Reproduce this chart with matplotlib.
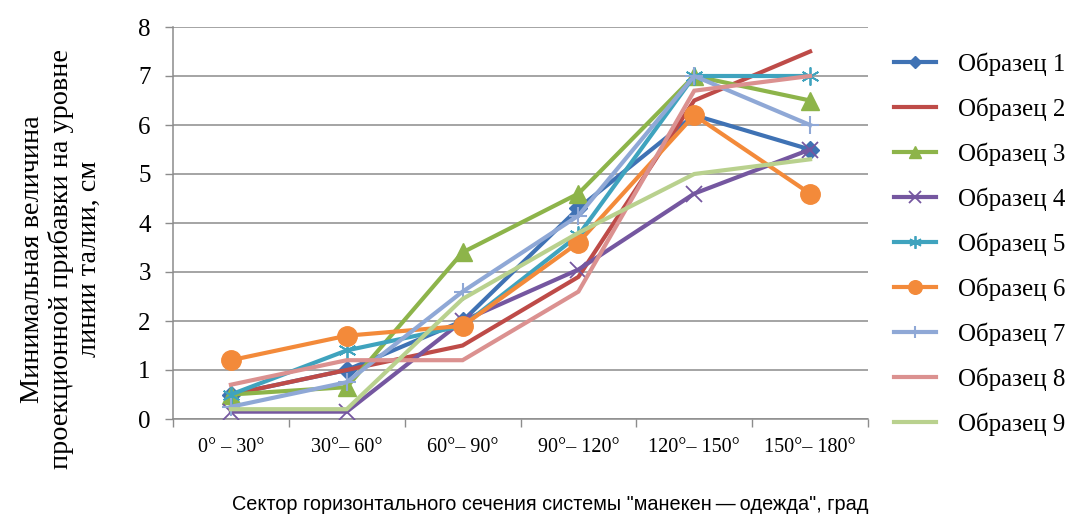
import matplotlib
matplotlib.use("Agg")
import matplotlib.pyplot as plt
import numpy as np

sectors = ["0° – 30°", "30°– 60°", "60°– 90°", "90°– 120°", "120°– 150°", "150°– 180°"]
labels = ["Образец %d" % i for i in range(1, 10)]

s1 = [0.5, 1.0, 2.0, 4.3, 6.2, 5.5]
s2 = [0.5, 1.0, 1.5, 2.9, 6.5, 7.5]
s3 = [0.5, 0.65, 3.4, 4.6, 7.0, 6.5]
s4 = [0.15, 0.15, 2.0, 3.05, 4.6, 5.5]
s5 = [0.5, 1.4, 1.9, 3.75, 7.0, 7.0]
s6 = [1.2, 1.7, 1.9, 3.6, 6.2, 4.6]
s7 = [0.25, 0.75, 2.6, 4.15, 7.0, 6.0]
s8 = [0.7, 1.2, 1.2, 2.6, 6.7, 7.0]
s9 = [0.2, 0.2, 2.45, 3.8, 5.0, 5.3]
series = [s1, s2, s3, s4, s5, s6, s7, s8, s9]

colors = ["#3F72B4", "#BE4B48", "#8DB44A", "#7557A0", "#3FA3BE",
          "#F38A3A", "#8FA8D6", "#DB9190", "#B9D18E"]
# marker, size, edge width
styles = [("D", 9, 1), (None, 0, 1), ("^", 13, 1), ("x", 12, 1.3),
          ((6, 2, 0), 13, 1.3), ("o", 14, 1), ("+", 13, 1.5), (None, 0, 1), (None, 0, 1)]

fig = plt.figure(figsize=(10.72, 5.16), dpi=100)
ax = fig.add_axes([173 / 1072, 1 - 419 / 516, 695 / 1072, 392 / 516])

x = np.arange(len(sectors))
for vals, lab, col, (mk, ms, mew) in zip(series, labels, colors, styles):
    ax.plot(x, vals, color=col, lw=3, marker=mk, ms=ms, mew=mew,
            mec=col, mfc=col, label=lab, solid_joinstyle="miter")

ax.set_xlim(-0.5, len(sectors) - 0.5)
ax.set_ylim(0, 8)
ax.set_yticks(range(0, 9))
ax.set_xticks(x)
ax.set_xticklabels(sectors, family="Liberation Serif", fontsize=14.5)
ax.set_xticks(np.arange(-0.5, len(sectors)), minor=True)
ax.tick_params(axis="x", which="major", length=0, pad=14)
ax.tick_params(axis="x", which="minor", length=6, width=1, color="#8c8c8c", direction="out")
ax.tick_params(axis="y", length=6, width=1, color="#8c8c8c", pad=10)
for t in ax.get_yticklabels():
    t.set_family("Liberation Serif")
    t.set_fontsize(18)

ax.grid(axis="y", color="#8c8c8c", lw=1.1)
ax.set_axisbelow(True)
for side in ["top", "right"]:
    ax.spines[side].set_visible(False)
for side in ["left", "bottom"]:
    ax.spines[side].set_color("#8c8c8c")
    ax.spines[side].set_linewidth(1.1)
ax.spines["bottom"].set_zorder(0.5)

fig.text(61 / 1072, 1 - 259 / 516,
         "Минимальная величина\nпроекционной прибавки на уровне\nлинии талии, см",
         rotation=90, ha="center", va="center", multialignment="center",
         family="Liberation Serif", fontsize=20.3, linespacing=1.15)

fig.text(550 / 1072, 1 - 505 / 516,
         "Сектор горизонтального сечения системы \"манекен\u2009—\u2009одежда\", град",
         ha="center", va="center", family=["Liberation Sans", "DejaVu Sans"],
         fontsize=14.3)

fig.legend(loc="upper left", bbox_to_anchor=(871 / 1072, 1 - 30 / 516),
           frameon=False, prop={"family": "Liberation Serif", "size": 18},
           handlelength=1.7, handletextpad=0.9, labelspacing=0.86, markerscale=0.7)

fig.savefig("out.png", dpi=100)
